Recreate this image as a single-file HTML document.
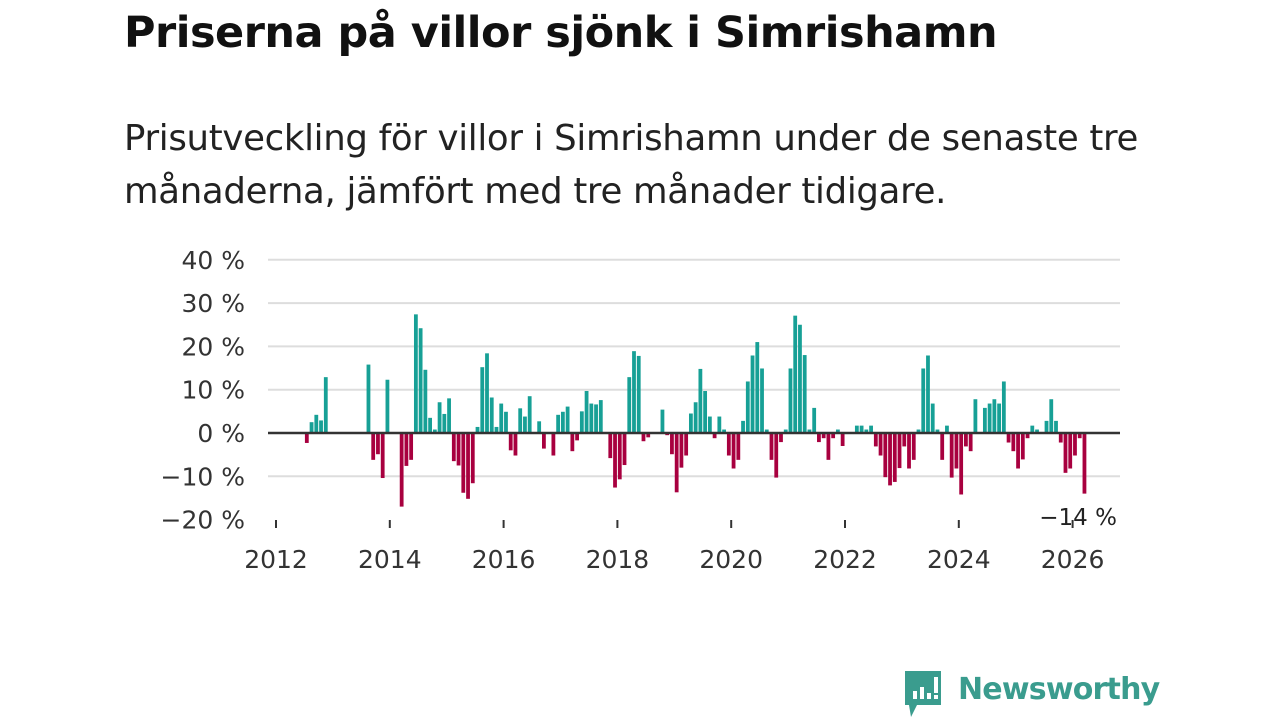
<!DOCTYPE html>
<html><head><meta charset="utf-8">
<style>
body{margin:0;width:1280px;height:720px;background:#fff;font-family:"Liberation Sans","DejaVu Sans",sans-serif;overflow:hidden;position:relative}
#title{position:absolute;left:124px;top:8px;font-size:43px;font-weight:bold;color:#111;margin:0;font-family:"DejaVu Sans","Liberation Sans",sans-serif;letter-spacing:-0.5px}
#sub{position:absolute;left:124px;top:112px;font-size:35.5px;line-height:53px;color:#222;width:1150px;font-family:"DejaVu Sans","Liberation Sans",sans-serif;letter-spacing:-0.3px}
svg{position:absolute;left:0;top:0}
</style></head><body>
<h1 id="title">Priserna på villor sjönk i Simrishamn</h1>
<div id="sub">Prisutveckling för villor i Simrishamn under de senaste tre månaderna, jämfört med tre månader tidigare.</div>
<svg id="chart" width="1280" height="720"></svg>
<div style="position:absolute;left:903px;top:671px;">
<svg width="40" height="50" style="position:absolute;left:0;top:0">
<path d="M2 0H38V34H14L8 46L6 34H2Z" fill="#3a9c8e"/>
<rect x="10" y="20" width="4" height="8" fill="#fff"/><rect x="17" y="16" width="4" height="12" fill="#fff"/><rect x="24" y="22" width="4" height="6" fill="#fff"/><rect x="31" y="6" width="4" height="16" fill="#fff"/><rect x="31" y="24" width="4" height="4" fill="#fff"/>
</svg>
<span style="position:absolute;left:55px;top:1px;font-size:30px;font-weight:bold;color:#3a9c8e;font-family:'DejaVu Sans','Liberation Sans',sans-serif;letter-spacing:-0.8px">Newsworthy</span>
</div>
<script>
const yTicks=[40,30,20,10,0,-10,-20];
const yTickLabels=["40 %","30 %","20 %","10 %","0 %","−10 %","−20 %"];
const xTicks=[2012,2014,2016,2018,2020,2022,2024,2026];
// month index from Jan 2012
const monthIdx=[6,7,8,9,10,19,20,21,22,23,26,27,28,29,30,31,32,33,34,35,36,37,38,39,40,41,42,43,44,45,46,47,48,49,50,51,52,53,55,56,58,59,60,61,62,63,64,65,66,67,68,70,71,72,73,74,75,76,77,78,81,82,83,84,85,86,87,88,89,90,91,92,93,94,95,96,97,98,99,100,101,102,103,104,105,106,107,108,109,110,111,112,113,114,115,116,117,118,119,122,123,124,125,126,127,128,129,130,131,132,133,134,135,136,137,138,139,140,141,142,143,144,145,146,147,149,150,151,152,153,154,155,156,157,158,159,160,162,163,164,165,166,167,168,169,170];
const values=[-2.3,2.5,4.2,2.9,12.9,15.8,-6.2,-4.9,-10.4,12.3,-17,-7.6,-6.2,27.4,24.2,14.6,3.5,0.8,7.1,4.4,8,-6.5,-7.5,-13.8,-15.2,-11.6,1.4,15.2,18.4,8.2,1.4,6.8,4.9,-4,-5.2,5.7,3.8,8.5,2.7,-3.6,-5.2,4.2,4.9,6.1,-4.2,-1.7,5,9.7,6.8,6.6,7.6,-5.8,-12.6,-10.7,-7.4,12.9,18.9,17.8,-1.9,-1,5.4,-0.5,-4.9,-13.7,-8,-5.2,4.5,7.1,14.8,9.7,3.8,-1.2,3.8,0.8,-5.2,-8.2,-6.2,2.8,11.9,17.9,21,14.9,0.8,-6.2,-10.3,-2.1,0.8,14.9,27.1,25,18,0.8,5.8,-2.1,-1.2,-6.2,-1.2,0.8,-3,1.7,1.7,0.8,1.7,-3.1,-5.2,-10.2,-12.1,-11.3,-8.1,-3.1,-8.2,-6.2,0.8,14.9,17.9,6.8,0.8,-6.2,1.7,-10.3,-8.2,-14.2,-3.1,-4.2,7.8,5.8,6.8,7.8,6.8,11.9,-2.2,-4.2,-8.2,-6.1,-1.2,1.7,0.8,2.8,7.8,2.8,-2.2,-9.2,-8.2,-5.2,-1.2,-14];
const lastLabel="−14 %";
const svg=document.getElementById('chart');
const NS='http://www.w3.org/2000/svg';
const x0=276,pxYear=56.9,left=268,right=1120;
const xs=y=>x0+(y-2012)*pxYear;
const xm=i=>xs(2012+(i+0.5)/12);
const ys=v=>433-v*4.33;
function mk(t,a){const e=document.createElementNS(NS,t);for(const k in a)e.setAttribute(k,a[k]);svg.appendChild(e);return e;}
yTicks.forEach((t,i)=>{
 if(t!==0&&t!==-20){const g=mk('line',{x1:left,x2:right,y1:ys(t),y2:ys(t),stroke:'#ddd','stroke-width':2});
 
 }
 const l=mk('text',{x:245,y:ys(t)+9,'text-anchor':'end','font-size':25,fill:'#333','font-family':'DejaVu Sans, Liberation Sans, sans-serif'});
 l.textContent=yTickLabels[i];
 
 
});
monthIdx.forEach((m,i)=>{
 const v=values[i];
 if(v===undefined)return;
 const r=mk('rect',{x:xm(m)-1.9,width:3.8,y:v>=0?ys(v):ys(0),height:Math.abs(ys(v)-ys(0)),fill:v>=0?'#17a096':'#a8003f'});
 
 
});
const z=mk('line',{x1:left,x2:right,y1:ys(0),y2:ys(0),stroke:'#333','stroke-width':2.5});


xTicks.forEach(t=>{
 const tk=mk('line',{x1:xs(t),x2:xs(t),y1:520,y2:528,stroke:'#333','stroke-width':2});
 
 
 const l=mk('text',{x:xs(t),y:568,'text-anchor':'middle','font-size':25,fill:'#333','font-family':'DejaVu Sans, Liberation Sans, sans-serif'});
 l.textContent=t;
 
 
});
const ll=mk('text',{x:1117,y:525,'text-anchor':'end','font-size':23,fill:'#222','font-family':'DejaVu Sans, Liberation Sans, sans-serif'});
ll.textContent=lastLabel;


</script>
</body></html>
